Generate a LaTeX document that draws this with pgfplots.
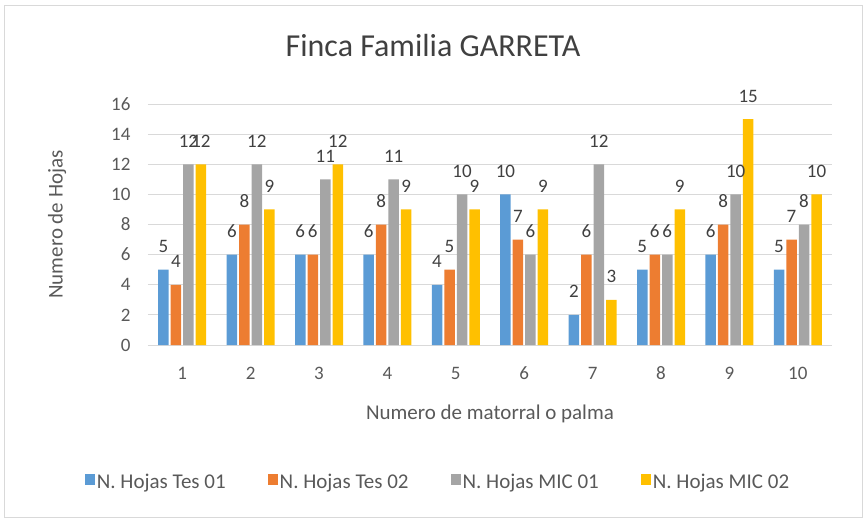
\documentclass[border=0pt]{standalone}
\usepackage{pgfplots}
\pgfplotsset{compat=1.18}
\usepackage{fontspec}
\setmainfont{Carlito}
\definecolor{cBlue}{HTML}{5B9BD5}
\definecolor{cOrange}{HTML}{ED7D31}
\definecolor{cGray}{HTML}{A5A5A5}
\definecolor{cGold}{HTML}{FFC000}
\definecolor{txt}{HTML}{595959}
\definecolor{lbl}{HTML}{404040}
\definecolor{gridc}{HTML}{D9D9D9}
\begin{document}
\begin{tikzpicture}
\path (-148pt,-175pt) rectangle (719pt,345pt);
\draw[draw=gridc, line width=0.8pt] (-144pt,-172pt) rectangle (714pt,340pt);
\begin{axis}[
  scale only axis,
  width=684pt, height=241pt,
  xmin=0.5, xmax=10.5, ymin=0, ymax=16,
  ytick={0,2,...,16},
  xtick={1,...,10},
  /pgf/number format/assume math mode=true,
  major tick length=0pt,
  ymajorgrids,
  grid style={draw=gridc, line width=0.8pt},
  axis x line*=bottom,
  axis y line*=left,
  x axis line style={draw=gridc, line width=0.8pt, -},
  y axis line style={draw=none},
  ybar=2pt, bar width=10.5pt,
  tick label style={font=\fontsize{19}{22}\selectfont, text=txt},
  xticklabel style={anchor=base, yshift=-34pt},
  yticklabel style={anchor=east, xshift=-14pt},
  ylabel={Numero de Hojas},
  ylabel style={at={(axis description cs:-0.133,0.5)}, anchor=center, font=\fontsize{21}{24}\selectfont, text=txt},
  xlabel={Numero de matorral o palma},
  xlabel style={at={(axis description cs:0.5,-0.311)}, anchor=base, font=\fontsize{21}{24}\selectfont, text=txt},
  title={Finca Familia GARRETA},
  title style={at={(axis description cs:0.4167,1.174)}, anchor=base, font=\fontsize{32}{36}\selectfont, text=lbl},
  nodes near coords,
  nodes near coords style={anchor=base, yshift=17pt, font=\fontsize{19}{22}\selectfont, text=lbl},
  legend columns=4,
  legend style={at={(axis description cs:0.424,-0.568)}, anchor=center, draw=none, fill=none,
    font=\fontsize{21}{24}\selectfont, text=txt,
    /tikz/every even column/.append style={column sep=40pt}},
  legend image code/.code={\fill[#1,draw=none] (0pt,-3pt) rectangle (10pt,8pt);},
]
\addplot[fill=cBlue, draw=none] coordinates {(1,5) (2,6) (3,6) (4,6) (5,4) (6,10) (7,2) (8,5) (9,6) (10,5)};
\addplot[fill=cOrange, draw=none] coordinates {(1,4) (2,8) (3,6) (4,8) (5,5) (6,7) (7,6) (8,6) (9,8) (10,7)};
\addplot[fill=cGray, draw=none] coordinates {(1,12) (2,12) (3,11) (4,11) (5,10) (6,6) (7,12) (8,6) (9,10) (10,8)};
\addplot[fill=cGold, draw=none] coordinates {(1,12) (2,9) (3,12) (4,9) (5,9) (6,9) (7,3) (8,9) (9,15) (10,10)};
\legend{N. Hojas Tes 01, N. Hojas Tes 02, N. Hojas MIC 01, N. Hojas MIC 02}
\end{axis}
\end{tikzpicture}
\end{document}
